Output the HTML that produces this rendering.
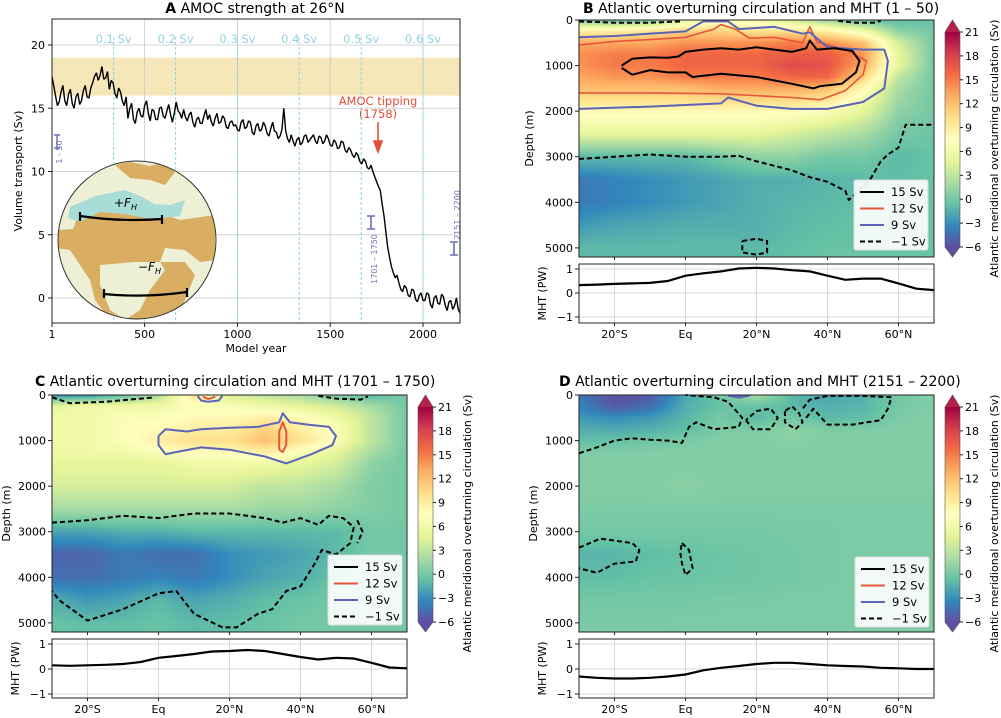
<!DOCTYPE html>
<html><head><meta charset="utf-8">
<style>
html,body{margin:0;padding:0;background:#fff;}
#wrap{position:relative;width:1001px;height:718px;overflow:hidden;font-family:"DejaVu Sans","Liberation Sans",sans-serif;}
canvas{position:absolute;}
svg{position:absolute;left:0;top:0;}
text{font-family:"DejaVu Sans","Liberation Sans",sans-serif;}
</style></head>
<body>
<div id="wrap">
<canvas id="hmB"></canvas>
<canvas id="hmC"></canvas>
<canvas id="hmD"></canvas>
<svg id="svg" width="1001" height="718" xmlns="http://www.w3.org/2000/svg"></svg>
</div>
<script>
// ---------- DATA ----------
const amocYears = [];
for (let y = 0; y <= 2200; y += 10) amocYears.push(y);
const amocValues = [17.5,16.8,16,15.2,15.5,16.3,16.8,15.6,15.2,16.1,16.5,15.4,15,15.9,16.2,15.3,15.6,16.4,16.8,15.9,15.8,
16.6,17,17.5,17.8,17.2,17.6,18.3,17.3,17.4,17.9,16.5,17.2,17,16.2,15.8,16.6,16.3,15.6,15.2,15.9,
14.2,15,15.4,14.1,13.8,14.7,15,14.4,14.3,15.2,15.6,14.6,14,14.9,14.8,14.1,14.1,15,15.1,14.4,
14.2,14.8,15.3,14.5,13.9,14.6,15.5,14.8,14.6,14.2,14.9,14.3,14,14.5,14.7,13.9,13.5,14.1,14.3,13.8,
13.8,14.4,14.9,14.1,14.5,13.9,13.6,14.2,14.6,13.8,13.9,14.4,14.2,13.5,13.4,13.9,14,13.6,13.7,13.3,
13.2,13.9,14.1,13.4,13.5,14,13.9,13.1,12.9,13.6,13.8,13.2,13.3,13.9,13.6,13,12.8,13.4,13.9,13.2,
13.1,12.6,12.8,13.3,15,13.2,12.6,12.3,12.9,12.4,12,12.5,12.7,12.1,12.3,12.8,12.9,12.3,12.5,12.7,
12.9,12.4,12.2,12.8,12.7,12.2,12.4,12.9,12.6,12.1,12,12.5,12.3,11.8,11.9,12.4,12.3,11.7,11.5,11.9,
11.7,11.3,11.1,11.5,11.3,10.8,10.6,11,10.8,10.3,10.2,10.5,10,9.6,9.2,8.8,8.5,7.4,6.5,5.2,
4,3.2,2.5,2,1.6,1.8,1.2,0.7,0.5,1,0.8,0.2,0.1,0.7,0.6,-0.1,-0.3,0.2,0.4,-0.2,
-0.2,0.4,0.3,-0.5,-0.8,0,0.2,-0.4,-0.5,0.3,0.1,-0.6,-1,-0.3,-0.2,-0.9,-0.6,0,-0.9,-1.2];
const freshYears = [333,667,1000,1333,1667,2000];
const freshLabels = ["0.1 Sv","0.2 Sv","0.3 Sv","0.4 Sv","0.5 Sv","0.6 Sv"];
const amocXTicks = [1,500,1000,1500,2000];
const amocYTicks = [0,5,10,15,20];
const obsBand = [16,19];

const gridLats = [-30,-20,-10,0,10,20,30,40,50,60,70];
const gridDepths = [0,250,500,750,1000,1250,1500,2000,2500,3000,3500,4000,4500,5000,5200];
const moc_B = [
[0,-1,0,5,7,6,4,1,-0.5,-1,-0.5],
[9,9,10,11,11,10,10,9,6,1,0],
[13,13,13,14,14,14,15,14,12,4,0],
[14,15,15,16,16,16,16.5,16.5,14,5,0],
[14,15,15,16,16,16,17.5,17,13,5,0],
[13,14,14,15,15,15,16,16,11,3,0],
[12,12,12,12,13,13,13,12,8,2,0],
[8,8,8,8,8,8,8,7,5,1,0],
[5,5,5,5,5,5,4,3,2,0,-0.3],
[-1,-1,-1,-1,0,1,1,0,0,-1,-0.5],
[-4,-3.5,-3,-2.5,-2,-1.5,-1.5,-1.2,-1,-0.8,-0.5],
[-4,-3.5,-3,-2.5,-2,-1.5,-1.2,-1,-0.8,-0.5,-0.5],
[-2.5,-2,-1.8,-1.5,-1.5,-1.5,-1,-0.8,-0.5,-0.5,-0.5],
[-1,-1,-1,-1,-1,-1,-0.8,-0.5,-0.5,-0.5,-0.5],
[-1,-1,-1,-1,-1,-1,-0.8,-0.5,-0.5,-0.5,-0.5]];
const moc_C = [
[-3,-3,-1,2,10,4,3,2,0,-1,0],
[5,6,6,6,7,7,6,5,4,2,0],
[6,6,7,7,8,8,9,8,6,3,0],
[6,6,7,8,9,9,11,9,7,3,0],
[6,6,7,9,10,10,12,10,7,3,0],
[6,6,6,7,8,8,9,7,5,2,0],
[5,5,5,5,6,6,6,5,4,1,0],
[4,4,4,4,4,4,3,3,2,0.5,0],
[2,2,2,2,2,2,1.5,1.5,1,0.5,0],
[-2,-2,-1.5,-1.5,-1,-1,-1,-1,-1,0,0],
[-5,-5,-4,-4.5,-4.5,-3,-2.5,-2,-1,0,0],
[-4.5,-4.5,-4,-3.5,-4,-3,-2,-1.5,-0.5,0,0],
[-1.5,-2.5,-2,-1,-2,-1.5,-0.8,-0.5,0,0,0],
[-0.5,-0.8,-0.8,-0.5,-1,-0.8,-0.5,0,0,0,0],
[-0.5,-0.8,-0.8,-0.5,-1,-0.8,-0.5,0,0,0,0]];
const moc_D = [
[-4,-6,-5.5,-2,0,2,-1,-2,-1.5,0,0.5],
[-3.5,-5.5,-4.5,-1.5,-0.5,-0.5,-1,-1.5,-1.2,0,0.5],
[-2.5,-3,-2.5,-1.2,0,-1,0,-1,-0.8,0.3,0.5],
[-1.5,-1.8,-1.5,-0.8,0.3,0.3,1,0.3,0.3,0.5,0.5],
[-0.8,-0.6,-0.3,0.2,0.5,0.5,0.8,0.5,0.5,0.5,0.5],
[0.3,0.4,0.5,0.5,0.5,0.5,0.5,0.5,0.5,0.5,0.5],
[0.5,0.5,0.5,0.5,0.5,0.5,0.5,0.5,0.5,0.5,0.5],
[0.5,0.5,0.5,0.8,0.5,0.5,0.5,0.5,0.5,0.5,0.5],
[0.3,0.3,0.3,0.3,0.3,0.3,0.3,0.3,0.3,0.3,0.3],
[0,0,0,0,0,0,0.2,0.2,0.3,0.3,0.3],
[-1.2,-1.2,-0.8,-0.6,-0.3,-0.2,0,0.2,0.3,0.3,0.3],
[-0.8,-0.8,-0.5,-0.4,-0.3,-0.2,0,0.2,0.3,0.3,0.3],
[0,0,0,0,0.2,0.2,0.3,0.3,0.3,0.3,0.3],
[0.2,0.2,0.2,0.3,0.3,0.3,0.3,0.3,0.3,0.3,0.3],
[0.2,0.2,0.2,0.3,0.3,0.3,0.3,0.3,0.3,0.3,0.3]];

const mhtLats = [-30,-25,-20,-15,-10,-5,0,5,10,15,20,25,30,35,40,45,50,55,60,65,70];
const mht_B = [0.33,0.35,0.38,0.4,0.42,0.5,0.72,0.82,0.9,1.02,1.05,1.02,0.95,0.9,0.72,0.55,0.6,0.6,0.4,0.18,0.12];
const mht_C = [0.15,0.13,0.15,0.17,0.2,0.28,0.45,0.52,0.6,0.7,0.72,0.76,0.72,0.6,0.48,0.38,0.45,0.42,0.25,0.06,0.03];
const mht_D = [-0.3,-0.35,-0.38,-0.38,-0.35,-0.3,-0.22,-0.05,0.05,0.12,0.2,0.25,0.25,0.2,0.15,0.12,0.1,0.05,0.03,0.0,0.0];

const latTicks = [-20,0,20,40,60];
const latTickLabels = ["20°S","Eq","20°N","40°N","60°N"];
const depthTicks = [0,1000,2000,3000,4000,5000];
const mhtTicks = [-1,0,1];
const cbarTicks = [-6,-3,0,3,6,9,12,15,18,21];

const cB15 = [[-18,1000],[-15,850],[-10,820],[-5,830],[-2,800],[0,700],[5,650],[10,620],[15,650],[20,600],[25,650],[30,700],[34,620],[35,450],[37,650],[42,620],[47,680],[49,900],[48,1150],[44,1400],[38,1450],[36,1500],[30,1400],[20,1250],[10,1180],[2,1250],[0,1150],[-5,1150],[-10,1100],[-15,1200],[-18,1050]];
const cB12 = [[-30,550],[-20,470],[-10,430],[0,380],[8,200],[10,100],[14,200],[18,400],[25,380],[33,500],[35,150],[37,480],[45,650],[51,900],[50,1200],[45,1550],[38,1750],[30,1700],[10,1620],[-10,1600],[-30,1600]];
const cB9 = [[-30,380],[-20,350],[0,250],[5,30],[12,30],[15,200],[25,150],[33,300],[35,270],[40,600],[50,650],[56,650],[57,900],[56,1500],[55,1550],[50,1800],[40,1950],[30,1950],[20,1880],[12,1700],[10,1830],[-10,1900],[-30,1950]];
const cBm1a = [[-30,3050],[-20,3000],[-10,2950],[0,3000],[10,3000],[15,2980],[20,3100],[25,3200],[30,3300],[35,3450],[40,3550],[45,3750],[46,3950],[48,3800],[52,3500],[55,3100],[57,2950],[60,2800],[62,2300],[70,2300]];
const cBm1b = [[-30,30],[-20,60],[-10,60],[-1,30]];
const cBm1c = [[16,4850],[20,4800],[23,4850],[23,5100],[20,5150],[16,5100],[16,4850]];
const cBm1d = [[43,20],[48,60],[53,60],[55,20]];

const cC9 = [[0,900],[2,750],[8,800],[12,750],[20,720],[28,700],[34,600],[35,400],[37,600],[42,650],[48,700],[50,900],[49,1100],[43,1300],[36,1500],[30,1350],[20,1200],[12,1150],[5,1250],[2,1300],[0,1100],[0,900]];
const cC9b = [[11,20],[12,120],[14,150],[17,120],[18,20]];
const cC12 = [[34,1200],[34,800],[35,600],[36,800],[36,1100],[35,1250],[34,1200]];
const cC12b = [[12.5,40],[14,90],[16,40]];
const cCm1a = [[-30,2800],[-20,2750],[-10,2650],[0,2700],[10,2600],[20,2600],[30,2700],[35,2800],[40,2700],[45,2850],[48,2650],[52,2700],[55,2900],[54,3250],[50,3500],[46,3400],[44,3700],[40,4200],[36,4300],[32,4700],[28,4800],[22,5100],[18,5100],[10,4800],[5,4300],[0,4350],[-10,4700],[-20,4950],[-28,4500],[-30,4300]];
const cCm1b = [[-30,50],[-25,180],[-15,150],[-5,80],[-1,50]];
const cCm1c = [[45,20],[50,80],[57,100],[59,30]];
const cCm1d = [[56,2750],[57.5,3000],[56,3250]];

const cDm1a = [[-30,1280],[-25,1150],[-20,1000],[-15,950],[-10,980],[-5,1000],[-1,1050],[1,700],[3,600],[8,750],[15,700],[16,500],[12,150],[8,50],[0,0]];
const cDm1b = [[17,550],[19,750],[24,750],[26,500],[24,300],[20,350],[17,550]];
const cDm1c = [[28,350],[28,600],[31,750],[33,600],[32,400],[30,250],[28,350]];
const cDm1d = [[34,500],[36,300],[40,650],[47,650],[55,550],[57,300],[58,50],[50,20],[40,20],[35,100],[33,300]];
const cDm1e = [[-30,3350],[-24,3150],[-15,3250],[-13,3400],[-14,3650],[-20,3700],[-25,3900],[-30,3800]];
const cDm1f = [[-1,3250],[1,3400],[2,3800],[0,3950],[-1,3700],[-1.5,3450],[-1,3250]];
const cD9 = [[12,10],[15,60],[18,10],[12,10]];

// ---------- HELPERS ----------
const NS = "http://www.w3.org/2000/svg";
const svg = document.getElementById("svg");
function mk(tag, attrs, parent) {
  const e = document.createElementNS(NS, tag);
  for (const k in attrs) e.setAttribute(k, attrs[k]);
  (parent || svg).appendChild(e);
  return e;
}
function txt(s, x, y, opts, parent) {
  const a = {x: x, y: y, "font-size": (opts && opts.size) || 11, fill: (opts && opts.fill) || "#000"};
  if (opts && opts.anchor) a["text-anchor"] = opts.anchor;
  if (opts && opts.rot !== undefined) a.transform = "rotate(" + opts.rot + " " + x + " " + y + ")";
  if (opts && opts.weight) a["font-weight"] = opts.weight;
  if (opts && opts.style) a["font-style"] = opts.style;
  const t = mk("text", a, parent);
  t.textContent = s;
  return t;
}
const spectral = ["#5e4fa2","#3288bd","#66c2a5","#abdda4","#e6f598","#ffffbf","#fee08b","#fdae61","#f46d43","#d53e4f","#9e0142"];
const specRGB = spectral.map(h => [parseInt(h.slice(1,3),16),parseInt(h.slice(3,5),16),parseInt(h.slice(5,7),16)]);
function cmap(v) {
  let t = (v + 6) / 27; t = Math.max(0, Math.min(1, t));
  const f = t * 10; const i = Math.min(9, Math.floor(f)); const r = f - i;
  const a = specRGB[i], b = specRGB[i+1];
  return [a[0]+(b[0]-a[0])*r, a[1]+(b[1]-a[1])*r, a[2]+(b[2]-a[2])*r];
}
function interpGrid(grid, lat, dep) {
  let i = 0; while (i < gridLats.length - 2 && lat > gridLats[i+1]) i++;
  let j = 0; while (j < gridDepths.length - 2 && dep > gridDepths[j+1]) j++;
  const tx = Math.max(0, Math.min(1, (lat - gridLats[i]) / (gridLats[i+1] - gridLats[i])));
  const ty = Math.max(0, Math.min(1, (dep - gridDepths[j]) / (gridDepths[j+1] - gridDepths[j])));
  const a = grid[j][i], b = grid[j][i+1], c = grid[j+1][i], d = grid[j+1][i+1];
  return (a*(1-tx)+b*tx)*(1-ty) + (c*(1-tx)+d*tx)*ty;
}

// ---------- PANEL A ----------
const A = {l:52, r:460, t:19, b:323};
const xA = y => A.l + (y - 1) * (423 - 52) / 1999;
const yA = v => 298 - v * 12.65;
const gA = mk("g", {});


mk("rect", {x: A.l, y: yA(obsBand[1]), width: A.r - A.l, height: yA(obsBand[0]) - yA(obsBand[1]), fill: "#f6e7b8"}, gA);
amocXTicks.slice(1).forEach(v => mk("line", {x1: xA(v), x2: xA(v), y1: A.t, y2: A.b, stroke: "#c8c8c8", "stroke-width": 0.8}, gA));
amocYTicks.forEach(v => mk("line", {x1: A.l, x2: A.r, y1: yA(v), y2: yA(v), stroke: "#c8c8c8", "stroke-width": 0.8}, gA));
freshYears.forEach((v, i) => {
  const l = mk("line", {x1: xA(v), x2: xA(v), y1: A.t + 18, y2: A.b, stroke: "#8fd3e0", "stroke-width": 1, "stroke-dasharray": "3,2"}, gA);
  
  const t = txt(freshLabels[i], xA(v), 43, {anchor: "middle", size: 11.5, fill: "#8fd3e0"}, gA);
  
});
const globe = mk("g", {}, gA);


mk("defs", {}, globe).innerHTML = '<clipPath id="gclip"><circle cx="137" cy="240" r="79"/></clipPath>';
mk("circle", {cx: 137, cy: 240, r: 79, fill: "#eef0d6"}, globe);
const land = mk("g", {"clip-path": "url(#gclip)"}, globe);
mk("path", {d: "M55,230 L90,228 L120,232 L150,230 L165,225 L150,250 L160,262 L185,262 L195,275 L185,300 L175,320 L140,330 L110,320 L95,300 L90,280 L78,262 L70,250 L55,248 Z", fill: "#d9ad62"}, land);
mk("path", {d: "M115,160 L130,168 L150,172 L170,166 L185,175 L200,168 L215,185 L216,225 L200,232 L185,228 L178,212 L165,208 L150,212 L140,200 L120,195 L110,180 Z", fill: "#eef0d6"}, land);
mk("path", {d: "M78,215 L95,200 L120,205 L145,215 L165,215 L180,220 L215,215 L215,260 L200,262 L185,250 L165,248 L160,262 L140,270 L125,300 L110,310 L100,290 L95,270 L80,255 L70,238 Z", fill: "#d9ad62"}, land);
mk("path", {d: "M70,207 L95,196 L125,190 L140,196 L155,204 L170,205 L185,200 L180,216 L165,218 L145,218 L125,214 L100,212 L80,222 L68,218 Z", fill: "#a8dcd6"}, land);
mk("path", {d: "M115,165 L130,162 L150,166 L165,162 L175,172 L165,185 L150,180 L130,178 Z", fill: "#d9ad62"}, land);
mk("path", {d: "M100,265 L135,262 L160,262 L165,270 L150,290 L140,310 L125,320 L110,310 L100,285 Z", fill: "#eef0d6"}, land);
mk("circle", {cx: 137, cy: 240, r: 79, fill: "none", stroke: "#333", "stroke-width": 1}, globe);
mk("path", {d: "M80,216 Q120,222 162,219", fill: "none", stroke: "#000", "stroke-width": 2.2}, globe);
mk("path", {d: "M80,212 L80,221 M162,215 L162,224", stroke: "#000", "stroke-width": 2.2}, globe);
mk("path", {d: "M104,294 Q145,298 187,292", fill: "none", stroke: "#000", "stroke-width": 2.2}, globe);
mk("path", {d: "M104,289 L104,298 M187,288 L187,297", stroke: "#000", "stroke-width": 2.2}, globe);
txt("+F", 114, 207, {size: 12, style: "italic"}, globe);
txt("H", 131, 210, {size: 8, style: "italic"}, globe);
txt("−F", 138, 271, {size: 12, style: "italic"}, globe);
txt("H", 155, 274, {size: 8, style: "italic"}, globe);
let dA = "";
amocYears.forEach((y, i) => { dA += (i ? "L" : "M") + xA(Math.max(1, y)).toFixed(1) + "," + yA(amocValues[i]).toFixed(1); });
const sA = mk("path", {d: dA, fill: "none", stroke: "#000", "stroke-width": 1.4, "stroke-linejoin": "bevel"}, gA);


txt("AMOC tipping", 378, 105, {anchor: "middle", size: 11.5, fill: "#e0503a"}, gA);
txt("(1758)", 378, 118, {anchor: "middle", size: 11.5, fill: "#e0503a"}, gA);
const arr = mk("path", {d: "M378,122 L378,145 M374,141 L378,152 L382,141 Z", stroke: "#e0503a", fill: "#e0503a", "stroke-width": 1.6}, gA);

mk("path", {d: "M54,135 L60,135 M57,135 L57,148 M54,148 L60,148", stroke: "#6a6fb5", "stroke-width": 1.4}, gA);
txt("1 - 50", 62, 152, {size: 8, fill: "#6a6fb5", rot: -90, anchor: "middle"}, gA);
mk("path", {d: "M367,216 L375,216 M371,216 L371,229 M367,229 L375,229", stroke: "#6a6fb5", "stroke-width": 1.6}, gA);
txt("1701 – 1750", 377, 259, {size: 8, fill: "#6a6fb5", rot: -90, anchor: "middle"}, gA);
mk("path", {d: "M450,242 L458,242 M454,242 L454,255 M450,255 L458,255", stroke: "#6a6fb5", "stroke-width": 1.6}, gA);
txt("2151 – 2200", 460, 215, {size: 8, fill: "#6a6fb5", rot: -90, anchor: "middle"}, gA);
mk("rect", {x: A.l, y: A.t, width: A.r - A.l, height: A.b - A.t, fill: "none", stroke: "#222", "stroke-width": 1}, gA);
amocXTicks.forEach(v => { mk("line", {x1: xA(v), x2: xA(v), y1: A.b, y2: A.b + 4, stroke: "#222"}, gA); txt(String(v), xA(v), A.b + 15, {anchor: "middle"}, gA); });
amocYTicks.forEach(v => { mk("line", {x1: A.l - 4, x2: A.l, y1: yA(v), y2: yA(v), stroke: "#222"}, gA); txt(String(v), A.l - 7, yA(v) + 4, {anchor: "end"}, gA); });
txt("Model year", 256, 352, {anchor: "middle"}, gA);
txt("Volume transport (Sv)", 22, 171, {anchor: "middle", rot: -90}, gA);
const tA = txt("", 255, 13, {anchor: "middle", size: 14}, gA);
tA.innerHTML = '<tspan font-weight="bold">A</tspan> AMOC strength at 26°N';


// ---------- OVERTURNING PANELS ----------
function panel(cfg) {
  const P = cfg.P;
  const xL = lat => P.l + (lat + 30) * (P.r - P.l) / 100;
  const yDp = d => P.t + d * (P.b - P.t) / 5200;
  const g = mk("g", {});
  
  
  const cv = document.getElementById(cfg.canvas);
  const W = P.r - P.l, H = P.b - P.t;
  cv.width = W; cv.height = H; cv.style.left = P.l + "px"; cv.style.top = P.t + "px";
  const ctx = cv.getContext("2d"); const im = ctx.createImageData(W, H);
  for (let py = 0; py < H; py++) for (let px = 0; px < W; px++) {
    const lat = -30 + (px + 0.5) / W * 100, dep = (py + 0.5) / H * 5200;
    const c = cmap(interpGrid(cfg.grid, lat, dep)); const k = (py * W + px) * 4;
    im.data[k] = c[0]; im.data[k+1] = c[1]; im.data[k+2] = c[2]; im.data[k+3] = 255;
  }
  ctx.putImageData(im, 0, 0);
  const pth = pts => pts.map((p, i) => (i ? "L" : "M") + xL(p[0]).toFixed(1) + "," + yDp(p[1]).toFixed(1)).join("");
  cfg.contours.forEach(c => {
    const e = mk("path", {d: pth(c.pts), fill: "none", stroke: c.col, "stroke-width": c.w || 2, "stroke-dasharray": c.dash ? "5,3" : "none", "stroke-linejoin": "round"}, g);
    
    
  });
  mk("rect", {x: P.l, y: P.t, width: W, height: H, fill: "none", stroke: "#222", "stroke-width": 1}, g);
  latTicks.forEach(v => mk("line", {x1: xL(v), x2: xL(v), y1: P.b, y2: P.b + 3, stroke: "#222"}, g));
  depthTicks.forEach(v => { mk("line", {x1: P.l - 4, x2: P.l, y1: yDp(v), y2: yDp(v), stroke: "#222"}, g); txt(String(v), P.l - 6, yDp(v) + 4, {anchor: "end"}, g); });
  txt("Depth (m)", cfg.depthLblX, (P.t + P.b) / 2, {anchor: "middle", rot: -90}, g);
  const L = cfg.leg;
  const lg = mk("g", {}, g);
  
  
  mk("rect", {x: L.x, y: L.y, width: 74, height: 70, fill: "#fff", "fill-opacity": 0.9, stroke: "#ddd", rx: 2}, lg);
  [["15 Sv", "#000", false], ["12 Sv", "#e8553a", false], ["9 Sv", "#5b64b8", false], ["−1 Sv", "#000", true]].forEach((e, i) => {
    const yy = L.y + 12 + i * 16.5;
    const ln = mk("line", {x1: L.x + 6, x2: L.x + 30, y1: yy, y2: yy, stroke: e[1], "stroke-width": 2, "stroke-dasharray": e[2] ? "5,3" : "none"}, lg);
    
    txt(e[0], L.x + 37, yy + 4, {size: 11.5}, lg);
  });
  const C = cfg.cb;
  const cbg = mk("g", {}, g);
  
  
  const gid = "grad" + cfg.canvas;
  const gr = mk("linearGradient", {id: gid, x1: 0, y1: 1, x2: 0, y2: 0}, mk("defs", {}, cbg));
  spectral.forEach((c, i) => mk("stop", {offset: i / 10, "stop-color": c}, gr));
  const cy = v => C.y21 + (21 - v) * (C.ym6 - C.y21) / 27;
  mk("rect", {x: C.x, y: cy(21), width: 15, height: cy(-6) - cy(21), fill: "url(#" + gid + ")"}, cbg);
  mk("path", {d: `M${C.x},${cy(21)} L${C.x + 7.5},${C.top} L${C.x + 15},${cy(21)} Z`, fill: "#b5204a"}, cbg);
  mk("path", {d: `M${C.x},${cy(-6)} L${C.x + 7.5},${C.bot} L${C.x + 15},${cy(-6)} Z`, fill: "#5e4fa2"}, cbg);
  mk("path", {d: `M${C.x},${cy(21)} L${C.x + 7.5},${C.top} L${C.x + 15},${cy(21)} L${C.x + 15},${cy(-6)} L${C.x + 7.5},${C.bot} L${C.x},${cy(-6)} Z`, fill: "none", stroke: "#555", "stroke-width": 0.6}, cbg);
  cbarTicks.forEach(v => { mk("line", {x1: C.x + 15, x2: C.x + 18, y1: cy(v), y2: cy(v), stroke: "#222"}, cbg); txt(v < 0 ? "−" + (-v) : String(v), C.x + 20, cy(v) + 4, {}, cbg); });
  txt("Atlantic meridional overturning circulation (Sv)", C.x + 53, (C.top + C.bot) / 2 + 10, {anchor: "middle", rot: -90, size: 11}, cbg);
  const M = cfg.M;
  const yM = v => M.y0 - v * (M.y0 - M.y1);
  const mg = mk("g", {}, g);
  
  
  latTicks.forEach(v => mk("line", {x1: xL(v), x2: xL(v), y1: M.t, y2: M.b, stroke: "#cfcfcf", "stroke-width": 0.8}, mg));
  mhtTicks.forEach(v => mk("line", {x1: P.l, x2: P.r, y1: yM(v), y2: yM(v), stroke: "#cfcfcf", "stroke-width": 0.8}, mg));
  const md = mhtLats.map((la, i) => (i ? "L" : "M") + xL(la).toFixed(1) + "," + yM(cfg.mht[i]).toFixed(1)).join("");
  const ml = mk("path", {d: md, fill: "none", stroke: "#000", "stroke-width": 2.2}, mg);
  
  mk("rect", {x: P.l, y: M.t, width: W, height: M.b - M.t, fill: "none", stroke: "#222"}, mg);
  mhtTicks.forEach(v => { mk("line", {x1: P.l - 4, x2: P.l, y1: yM(v), y2: yM(v), stroke: "#222"}, mg); txt(v < 0 ? "−1" : String(v), P.l - 6, yM(v) + 4, {anchor: "end"}, mg); });
  latTicks.forEach((v, i) => { mk("line", {x1: xL(v), x2: xL(v), y1: M.b, y2: M.b + 3, stroke: "#222"}, mg); txt(latTickLabels[i], xL(v), M.b + 15, {anchor: "middle"}, mg); });
  txt("MHT (PW)", cfg.mhtLblX, (M.t + M.b) / 2, {anchor: "middle", rot: -90}, mg);
  const tt = txt("", cfg.titleX, cfg.titleY, {size: 14}, g);
  tt.innerHTML = '<tspan font-weight="bold">' + cfg.letter + '</tspan> ' + cfg.title;
  
}
const BLK = "#000", ORG = "#e8553a", BLU = "#5b64b8";
panel({name: "panel-b", canvas: "hmB", grid: moc_B, mht: mht_B, letter: "B", title: "Atlantic overturning circulation and MHT (1 – 50)", titleX: 583, titleY: 13,
  P: {l: 579, r: 934, t: 20, b: 257}, M: {t: 264, b: 323, y1: 269, y0: 293}, cb: {x: 945, top: 20, bot: 257, y21: 32, ym6: 247},
  leg: {x: 854, y: 180}, depthLblX: 533, mhtLblX: 546,
  contours: [{pts: cB12, col: ORG, w: 1.6, name: "contour-12sv"}, {pts: cB9, col: BLU, name: "contour-9sv"}, {pts: cB15, col: BLK, name: "contour-15sv"},
    {pts: cBm1a, col: BLK, dash: 1, name: "contour-minus1sv"}, {pts: cBm1b, col: BLK, dash: 1, name: "contour-minus1sv-surface"}, {pts: cBm1c, col: BLK, dash: 1, name: "contour-minus1sv-bottom"}, {pts: cBm1d, col: BLK, dash: 1, name: "contour-minus1sv-north"}]});
panel({name: "panel-c", canvas: "hmC", grid: moc_C, mht: mht_C, letter: "C", title: "Atlantic overturning circulation and MHT (1701 – 1750)", titleX: 35, titleY: 386,
  P: {l: 52, r: 407, t: 395, b: 632}, M: {t: 639, b: 698, y1: 644, y0: 669}, cb: {x: 418, top: 395, bot: 632, y21: 407, ym6: 622},
  leg: {x: 328, y: 555}, depthLblX: 10, mhtLblX: 19,
  contours: [{pts: cC9, col: BLU, name: "contour-9sv"}, {pts: cC9b, col: BLU, name: "contour-9sv-surface"}, {pts: cC12, col: ORG, name: "contour-12sv"}, {pts: cC12b, col: ORG, name: "contour-12sv-surface"},
    {pts: cCm1a, col: BLK, dash: 1, name: "contour-minus1sv"}, {pts: cCm1b, col: BLK, dash: 1, name: "contour-minus1sv-surface"}, {pts: cCm1c, col: BLK, dash: 1, name: "contour-minus1sv-north"}, {pts: cCm1d, col: BLK, dash: 1, name: "contour-minus1sv-small"}]});
panel({name: "panel-d", canvas: "hmD", grid: moc_D, mht: mht_D, letter: "D", title: "Atlantic overturning circulation and MHT (2151 – 2200)", titleX: 559, titleY: 386,
  P: {l: 579, r: 934, t: 395, b: 632}, M: {t: 639, b: 698, y1: 644, y0: 669}, cb: {x: 945, top: 395, bot: 632, y21: 407, ym6: 622},
  leg: {x: 855, y: 557}, depthLblX: 537, mhtLblX: 546,
  contours: [{pts: cD9, col: BLU, name: "contour-9sv"}, {pts: cDm1a, col: BLK, dash: 1, name: "contour-minus1sv"}, {pts: cDm1b, col: BLK, dash: 1, name: "contour-minus1sv-b"}, {pts: cDm1c, col: BLK, dash: 1, name: "contour-minus1sv-c"},
    {pts: cDm1d, col: BLK, dash: 1, name: "contour-minus1sv-d"}, {pts: cDm1e, col: BLK, dash: 1, name: "contour-minus1sv-deep"}, {pts: cDm1f, col: BLK, dash: 1, name: "contour-minus1sv-deep-small"}]});
</script>
</body></html>
